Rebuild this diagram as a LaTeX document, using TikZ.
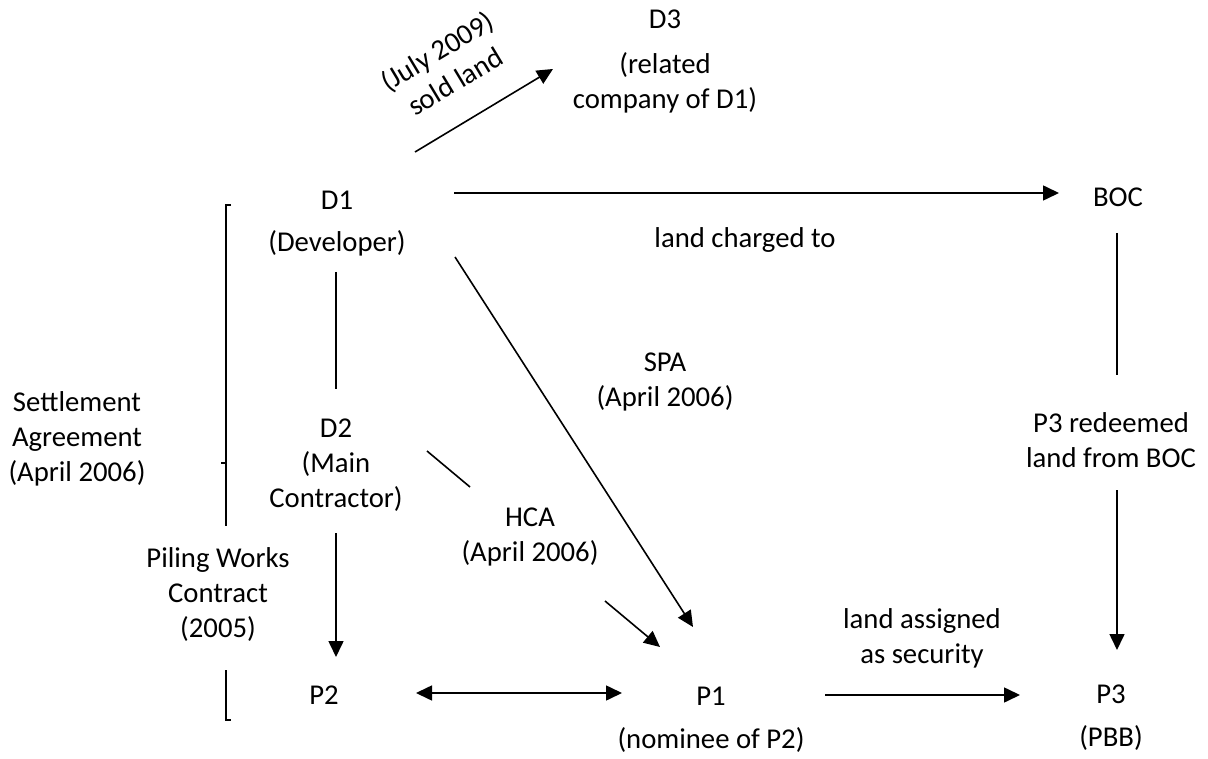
\documentclass[tikz,border=0pt]{standalone}
\usepackage{fontspec}
\setmainfont{Carlito}
\usetikzlibrary{arrows.meta}
\begin{document}
\begin{tikzpicture}[x=1pt,y=-1pt,
  lbl/.style={font=\fontsize{28.7}{35}\selectfont, align=center, inner sep=0pt},
  arr/.style={line width=1.6pt, -{Triangle[length=16pt,width=15pt]}},
  darr/.style={line width=1.6pt, {Triangle[length=16pt,width=15pt]}-{Triangle[length=16pt,width=15pt]}},
  ln/.style={line width=1.6pt},
  brk/.style={line width=1.4pt}]
\useasboundingbox (0,0) rectangle (1208,759);

% nodes
\node[lbl] (D3) at (665,62) {D3\\[10pt](related\\company of D1)};
\node[lbl] (D1) at (337,224) {D1\\[7pt](Developer)};
\node[lbl] (BOC) at (1118,197) {BOC};
\node[lbl] (D2) at (336,465) {D2\\(Main\\Contractor)};
\node[lbl] (P2) at (324,695) {P2};
\node[lbl] (P1) at (711,720) {P1\\[8pt](nominee of P2)};
\node[lbl] (P3) at (1111,718) {P3\\[8pt](PBB)};

% labels
\node[lbl, rotate=31] (sold) at (446,66) {(July 2009)\\sold land};
\node[lbl] (charged) at (745,240) {land charged to};
\node[lbl] (spa) at (665,382) {SPA\\(April 2006)};
\node[lbl] (hca) at (530,537) {HCA\\(April 2006)};
\node[lbl] (redeem) at (1111,440) {P3 redeemed\\land from BOC};
\node[lbl] (assign) at (922,638) {land assigned\\as security};
\node[lbl] (settle) at (77,439) {Settlement\\Agreement\\(April 2006)};
\node[lbl] (piling) at (218,595) {Piling Works\\Contract\\(2005)};

% connector end points
\coordinate (s1) at (415,152);  \coordinate (s2) at (553,69);
\coordinate (c1) at (454,193);  \coordinate (c2) at (1059,193);
\coordinate (b1) at (1117,233); \coordinate (b2) at (1117,375);
\coordinate (b3) at (1117,490); \coordinate (b4) at (1117,650);
\coordinate (d1) at (336,272);  \coordinate (d2) at (336,389);
\coordinate (d3) at (336,533);  \coordinate (d4) at (336,657);
\coordinate (e1) at (416,693);  \coordinate (e2) at (622,693);
\coordinate (f1) at (825,695);  \coordinate (f2) at (1020,695);
\coordinate (g1) at (455,257);  \coordinate (g2) at (693,627);
\coordinate (h1) at (427,451);  \coordinate (h2) at (470,487);
\coordinate (h3) at (605,601);  \coordinate (h4) at (660,647);

\draw[arr] (s1) -- (s2);
\draw[arr] (c1) -- (c2);
\draw[ln] (b1) -- (b2);
\draw[arr] (b3) -- (b4);
\draw[ln] (d1) -- (d2);
\draw[arr] (d3) -- (d4);
\draw[darr] (e1) -- (e2);
\draw[arr] (f1) -- (f2);
\draw[arr] (g1) -- (g2);
\draw[ln] (h1) -- (h2);
\draw[arr] (h3) -- (h4);

% brackets
\coordinate (k1) at (231,205); \coordinate (k2) at (226,205);
\coordinate (k3) at (226,526); \coordinate (k4) at (221,463);
\coordinate (k5) at (226,463);
\coordinate (k6) at (226,670); \coordinate (k7) at (226,720);
\coordinate (k8) at (231,720);
\draw[brk] (k1) -- (k2) -- (k3);
\draw[brk] (k4) -- (k5);
\draw[brk] (k6) -- (k7) -- (k8);
\end{tikzpicture}
\end{document}
